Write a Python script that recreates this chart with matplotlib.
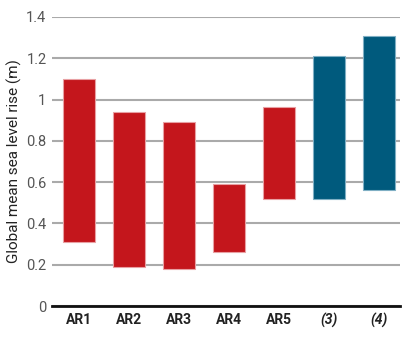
import matplotlib
matplotlib.use("Agg")
import matplotlib.pyplot as plt

categories = ["AR1", "AR2", "AR3", "AR4", "AR5", "(3)", "(4)"]
low_values = [0.31, 0.19, 0.18, 0.26, 0.52, 0.52, 0.56]
high_values = [1.10, 0.94, 0.89, 0.59, 0.965, 1.21, 1.31]
bar_colors = ["#C4161C"] * 5 + ["#005A7D"] * 2
edge_colors = ["#E8A0A3"] * 5 + ["#7FAFC4"] * 2
yticks = [0, 0.2, 0.4, 0.6, 0.8, 1.0, 1.2, 1.4]
ytick_labels = ["0", "0.2", "0.4", "0.6", "0.8", "1", "1.2", "1.4"]
ylabel = "Global mean sea level rise (m)"

plt.rcParams['font.family'] = ["Roboto", "DejaVu Sans"]

fig = plt.figure(figsize=(4.15, 3.41), dpi=100)
ax = fig.add_axes([52/415, 1 - 306/341, (400-52)/415, (306-17)/341])

x = list(range(len(categories)))
heights = [h - l for h, l in zip(high_values, low_values)]
ax.bar(x, heights, bottom=low_values, width=0.64, color=bar_colors,
       edgecolor=edge_colors, linewidth=0.8, zorder=3)

ax.set_xlim(-0.54, 6.42)
ax.set_ylim(0, 1.4)
ax.set_yticks(yticks)
ax.set_yticklabels(ytick_labels, fontsize=10.5, color="#555555")
ax.set_xticks(x)
ax.set_xticklabels(categories, fontsize=10, fontweight="bold", color="#222222")
for lab in ax.get_xticklabels()[5:]:
    lab.set_fontstyle("italic")
ax.tick_params(axis="y", length=0, pad=4)
ax.tick_params(axis="x", length=0, pad=5)
ax.grid(axis="y", color="#AAAAAA", linewidth=1.5, zorder=0)
for s in ["top", "right", "left"]:
    ax.spines[s].set_visible(False)
ax.spines["bottom"].set_color("#111111")
ax.spines["bottom"].set_linewidth(2)
ax.spines["bottom"].set_zorder(4)
ax.set_ylabel(ylabel, fontsize=11, color="#222222", labelpad=3)

fig.savefig("out.png", dpi=100)
